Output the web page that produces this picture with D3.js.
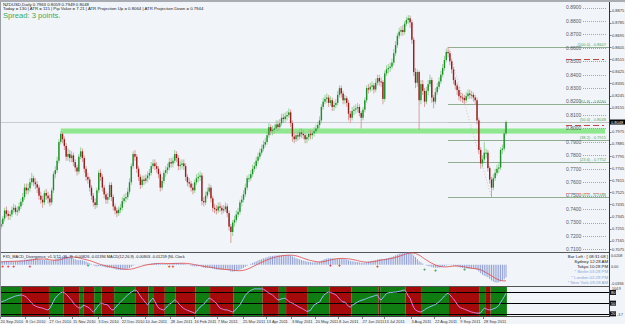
<!DOCTYPE html>
<html lang='en'>
<head>
<meta charset='utf-8'>
<title>NZDUSD Daily</title>
<script src='https://cdn.jsdelivr.net/npm/d3@7/dist/d3.min.js'></script>
<style>
	body { margin:0; background:#f1f5fa; }
	svg { display:block; font-family:'Liberation Sans', Arial, sans-serif; }
</style>
</head>
<body>
<script>
// daily NZDUSD, prices in pips (x 0.0001)
var firstOpen = 7270;
var closes = [
7290,7330,7390,7365,7350,7360,7395,7410,7380,7390,7420,7455,7490,7560,7540,7555,7600,7630,7600,7585,
7560,7500,7470,7450,7520,7500,7480,7450,7540,7660,7690,7760,7900,7960,7920,7870,7790,7810,7780,7800,
7750,7710,7680,7790,7830,7780,7700,7640,7620,7560,7500,7450,7430,7540,7670,7640,7560,7510,7470,7490,
7580,7490,7420,7390,7370,7395,7410,7460,7480,7490,7530,7600,7720,7810,7790,7700,7640,7580,7620,7610,
7630,7650,7670,7720,7740,7720,7700,7660,7560,7610,7670,7690,7710,7750,7740,7760,7810,7780,7720,7730,
7740,7720,7640,7600,7590,7560,7540,7600,7630,7640,7650,7460,7450,7500,7530,7560,7480,7410,7400,7390,
7420,7410,7390,7400,7420,7370,7270,7230,7300,7320,7360,7380,7450,7470,7510,7560,7630,7630,7660,7700,
7720,7760,7790,7820,7850,7880,7900,7950,8010,7980,7990,8000,8030,8010,8040,8080,8070,8090,8100,8120,
8040,7940,7920,7950,7940,7970,7960,7950,7920,7935,7960,7950,7965,7980,8000,8025,8060,8160,8200,8220,
8230,8190,8210,8160,8175,8190,8250,8300,8260,8210,8225,8190,8110,8080,8130,8140,8150,8160,8115,8080,
8140,8210,8300,8290,8310,8320,8290,8340,8375,8350,8346,8220,8410,8440,8450,8460,8490,8560,8620,8690,
8720,8733,8718,8780,8807,8820,8790,8660,8420,8340,8420,8210,8330,8280,8200,8280,8330,8360,8230,8200,
8270,8310,8350,8400,8450,8510,8570,8560,8500,8440,8360,8320,8286,8240,8230,8227,8210,8240,8260,8250,
8250,8230,8210,8060,7840,7740,7770,7820,7820,7705,7620,7560,7630,7670,7700,7710,7840,7850,7963,8048];
var highs = [
7320,7350,7410,7420,7390,7385,7420,7440,7430,7420,7450,7480,7520,7590,7590,7590,7630,7670,7650,7630,
7610,7580,7530,7500,7540,7550,7530,7510,7560,7680,7720,7790,7920,7980,7970,7940,7890,7850,7840,7830,
7820,7770,7730,7810,7860,7850,7800,7720,7670,7640,7580,7520,7480,7560,7690,7700,7660,7580,7530,7520,
7600,7600,7510,7440,7410,7420,7440,7490,7510,7520,7560,7630,7740,7830,7840,7810,7720,7660,7650,7650,
7660,7680,7700,7750,7770,7770,7750,7720,7680,7640,7690,7720,7740,7780,7780,7790,7840,7830,7800,7760,
7770,7770,7740,7660,7630,7610,7590,7620,7660,7670,7680,7670,7490,7530,7560,7590,7580,7500,7440,7430,
7450,7450,7430,7430,7450,7440,7390,7290,7320,7350,7390,7410,7470,7500,7540,7590,7650,7660,7690,7730,
7750,7790,7820,7850,7880,7910,7930,7980,8040,8030,8020,8030,8060,8060,8070,8110,8110,8120,8130,8150,
8140,8060,7970,7980,7980,8000,8000,7990,7970,7960,7990,7990,7990,8010,8030,8050,8090,8180,8230,8250,
8260,8250,8240,8230,8200,8220,8280,8320,8320,8280,8250,8240,8210,8130,8160,8170,8180,8190,8180,8130,
8160,8230,8320,8330,8340,8350,8340,8370,8400,8400,8380,8360,8430,8470,8480,8490,8520,8590,8650,8710,
8750,8760,8770,8800,8830,8844,8840,8810,8680,8450,8440,8430,8360,8360,8300,8310,8360,8400,8380,8250,
8300,8340,8380,8430,8480,8540,8595,8607,8580,8520,8460,8380,8340,8310,8270,8260,8250,8270,8290,8290,
8280,8270,8250,8230,8080,7860,7800,7900,7850,7840,7720,7640,7660,7700,7730,7740,7860,7880,7990,8059];
var lows = [
7250,7270,7310,7340,7320,7320,7340,7370,7360,7350,7370,7400,7430,7470,7510,7510,7530,7580,7570,7550,
7520,7470,7440,7410,7430,7470,7440,7420,7430,7520,7630,7670,7740,7880,7890,7840,7760,7760,7750,7750,
7720,7680,7650,7660,7770,7750,7670,7610,7590,7530,7470,7420,7400,7410,7520,7610,7530,7480,7440,7440,
7470,7460,7390,7360,7340,7350,7370,7390,7440,7450,7470,7510,7580,7700,7760,7670,7610,7550,7560,7580,
7590,7600,7620,7650,7700,7690,7670,7630,7530,7540,7590,7640,7660,7690,7710,7710,7740,7750,7690,7690,
7700,7690,7610,7570,7560,7530,7510,7520,7580,7600,7610,7430,7420,7430,7480,7510,7450,7380,7370,7360,
7370,7380,7360,7370,7380,7340,7240,7148,7200,7270,7300,7340,7360,7420,7450,7490,7540,7600,7610,7640,
7680,7700,7740,7770,7800,7830,7860,7880,7930,7950,7950,7960,7980,7980,7990,8020,8040,8040,8060,8080,
8010,7900,7890,7900,7910,7920,7930,7920,7890,7890,7910,7920,7920,7940,7960,7980,8000,8040,8140,8180,
8190,8160,8170,8130,8130,8150,8170,8230,8230,8180,8180,8160,8060,8040,8060,8100,8110,8120,8090,8000,
8060,8120,8190,8260,8270,8280,8260,8270,8320,8320,8310,8180,8200,8390,8410,8420,8440,8470,8540,8600,
8670,8690,8690,8700,8760,8780,8750,8630,8390,8300,8310,7990,8180,8250,8160,8180,8250,8310,8190,8150,
8180,8250,8290,8330,8380,8430,8490,8530,8470,8410,8330,8290,8250,8210,8200,8190,8180,8190,8220,8220,
8220,8200,8180,8030,7810,7700,7710,7750,7780,7680,7590,7488,7540,7610,7650,7670,7690,7810,7830,7949];

// MACD(12,26,9) main (histogram) and signal, x 0.0001
var macdMain = [
60,62,65,66,65,63,62,63,64,66,70,75,80,88,92,96,102,108,110,110,
106,100,92,86,84,80,76,72,74,82,92,104,122,140,150,152,148,140,130,122,
110,98,86,84,84,80,70,56,42,26,8,-10,-26,-30,-26,-24,-30,-38,-48,-54,
-52,-58,-68,-78,-86,-90,-90,-88,-84,-78,-70,-58,-38,-16,-4,0,2,0,4,6,
10,14,18,24,30,32,32,28,18,14,14,16,18,22,24,28,32,32,28,26,
24,22,14,4,-6,-16,-26,-28,-28,-26,-24,-40,-52,-56,-56,-54,-60,-70,-78,-84,
-86,-88,-90,-90,-88,-92,-104,-120,-122,-118,-110,-100,-84,-70,-54,-36,-16,0,16,32,
46,60,74,88,100,112,122,134,146,152,156,160,164,166,168,170,172,172,172,172,
164,148,130,116,104,94,84,74,64,56,50,46,42,42,44,48,54,70,86,100,
110,114,116,114,110,108,110,114,112,106,100,92,80,68,62,56,52,48,42,34,
32,36,46,54,62,70,74,82,92,100,104,96,104,112,120,128,138,152,168,182,
194,202,206,212,216,218,214,196,166,136,100,60,40,20,0,-14,-24,-30,-40,-50,
-54,-54,-50,-44,-36,-26,-14,-8,-8,-12,-18,-26,-34,-42,-50,-56,-62,-66,-70,-72,
-74,-76,-78,-92,-120,-150,-176,-192,-206,-222,-250,-280,-300,-312,-316,-310,-296,-280,-256,-226];
var macdSignal = [
50,52,54,56,58,60,61,62,63,63,64,65,67,69,72,76,80,85,90,95,
99,102,103,102,100,97,93,88,84,81,80,82,86,92,100,110,120,128,134,138,
138,135,130,122,114,106,98,90,82,74,64,52,40,28,16,6,-4,-12,-20,-28,
-34,-40,-46,-52,-58,-64,-70,-76,-80,-82,-82,-80,-76,-70,-62,-52,-42,-32,-22,-14,
-6,0,4,8,12,16,20,22,24,24,24,22,22,22,22,22,23,24,25,26,
26,26,25,22,18,14,8,2,-4,-10,-16,-22,-28,-34,-38,-42,-46,-50,-56,-62,
-68,-72,-76,-80,-84,-86,-88,-92,-96,-100,-104,-106,-106,-104,-98,-90,-80,-66,-52,-36,
-20,-4,12,28,44,58,72,86,98,110,120,130,138,146,152,158,162,166,168,170,
170,168,164,158,150,140,128,116,104,94,84,76,68,62,56,52,50,50,54,60,
68,76,84,92,98,104,108,110,112,112,110,108,104,100,94,88,82,74,66,58,
52,48,46,46,48,52,56,62,68,76,82,88,92,96,102,108,114,122,130,140,
150,160,172,182,192,200,206,208,206,198,186,170,150,128,106,84,64,44,26,10,
-4,-16,-26,-32,-36,-38,-38,-36,-32,-28,-24,-22,-22,-24,-28,-32,-38,-44,-50,-56,
-62,-66,-70,-74,-80,-90,-104,-120,-138,-156,-176,-196,-216,-236,-254,-268,-278,-284,-286,-284];

// oscillator in the bottom window (0..100)
var osc = [
53,55,57,59,62,64,66,68,70,71,72,73,72,70,67,62,56,50,45,42,
40,38,37,36,34,32,31,36,45,55,64,70,75,79,81,79,75,70,64,58,
50,45,40,37,36,42,44,41,39,35,30,25,30,38,45,50,49,47,46,45,
38,32,31,36,42,48,53,58,63,68,73,77,81,84,87,85,78,70,63,57,
50,45,52,59,64,55,45,37,34,32,31,36,42,47,50,55,59,56,50,44,
39,35,32,30,28,26,24,22,27,33,39,43,47,53,59,64,62,58,54,50,
42,36,34,32,31,31,29,27,25,28,34,40,45,54,63,72,78,82,86,88,
90,90,90,90,90,89,86,82,78,76,73,68,63,59,60,62,63,64,60,55,
52,50,47,44,41,38,36,33,30,27,28,30,38,45,48,51,53,62,70,75,
79,81,80,78,76,73,68,62,57,53,53,47,41,39,44,47,50,53,56,58,
59,61,63,65,67,68,70,72,73,62,59,65,71,77,79,80,80,81,81,82,
83,84,86,87,80,70,64,50,38,31,28,26,25,28,31,35,37,40,42,44,
46,50,54,59,64,70,75,78,74,67,62,55,47,40,37,35,33,31,29,27,
25,24,23,22,22,23,30,36,34,32,31,32,34,36,39,43,52,60,68,78];
// background bands of the bottom window: first bar of each band and its colour
var bandStart = [0,12,27,35,44,46,52,56,63,75,82,85,91,97,108,116,129,145,154,158,170,182,194,209,210,224,233,248,265,268,271];
var bandColor = ['g','r','g','r','g','r','g','r','g','r','g','r','g','r','g','r','g','r','g','r','g','r','g','r','g','r','g','r','g','r','g'];
var oscLevels = [80, 50, 20];

// time axis
var dateLabels = ['20 Sep 2010','8 Oct 2010','27 Oct 2010','15 Nov 2010','3 Dec 2010','22 Dec 2010','10 Jan 2011','28 Jan 2011','16 Feb 2011','7 Mar 2011','25 Mar 2011','13 Apr 2011','3 May 2011','20 May 2011','8 Jun 2011','27 Jun 2011','13 Jul 2011','3 Aug 2011','22 Aug 2011','9 Sep 2011','28 Sep 2011'];
var dateBars = [0,14,27,40,54,67,80,94,107,120,134,147,161,174,187,200,212,227,240,254,267];

// price levels
var roundLevels = [0.89,0.88,0.87,0.86,0.85,0.84,0.83,0.82,0.81,0.80,0.79,0.78,0.77,0.76,0.75,0.74,0.73,0.72,0.71];
var axisTicks = [0.8875,0.8785,0.8695,0.8605,0.8515,0.8425,0.8335,0.8245,0.8155,0.8065,0.7975,0.7885,0.7795,0.7705,0.7615,0.7525,0.7435,0.7345,0.7255,0.7165,0.7075];
var fibLevels = ['100.0','61.8','50.0','38.2','23.6','0.0'];
var fibPrices = [0.8607,0.8180,0.8048,0.7915,0.7752,0.7488];
var fibFrom = 247, fibTo = 271;
var atrLines = [0.8515,0.8026,0.7518];
var zoneTop = 0.8000, zoneBottom = 0.7962, zoneFrom = 33;
var bid = 0.8048;

// MACD divergence marks
var divBars = [1,4,7,16,48,93,95,182,187,208,234,240,256];
var divVals = [-30,-30,-30,-20,-10,-20,-20,-10,-10,-30,-80,-90,-80];
var divCols = ['r','r','r','r','g','r','r','r','r','r','g','g','g'];

var clockLines = ['Bar Left : [ 08:31:08 ]','Sydney    12:28  AM','Tokyo    10:28  PM','* Berlin    03:28  PM','* London    02:28  PM','* New York    09:28  AM'];

var width = 625, height = 324;
var axisX = 609.5, plotRight = 506;
var svg = d3.select('body').append('svg').attr('width', width).attr('height', height);

svg.append('rect').attr('width', width).attr('height', height).attr('fill', '#f1f5fa');
svg.append('rect').attr('width', width).attr('height', 2).attr('fill', '#a9adb3');

var N = closes.length;
var x = d3.scaleLinear().domain([0, N - 1]).range([1, plotRight]);
var y = d3.scaleLinear().domain([0.7081, 0.8941]).range([252, 2]);
var yM = d3.scaleLinear().domain([-0.0394, 0.0208]).range([287, 253]);
var yO = d3.scaleLinear().domain([0, 100]).range([321, 285.3]);

var bars = closes.map(function(c, i) {
	return { i: i, o: (i ? closes[i - 1] : firstOpen) / 1e4, h: highs[i] / 1e4, l: lows[i] / 1e4, c: c / 1e4 };
});

// ---------- main window ----------
var main = svg.append('g');
main.append('clipPath').attr('id', 'mainClip').append('rect').attr('x', 0).attr('y', 2).attr('width', axisX).attr('height', 250);

// support zone
main.append('rect')
	.attr('x', x(zoneFrom)).attr('width', 605 - x(zoneFrom))
	.attr('y', y(zoneTop)).attr('height', y(zoneBottom) - y(zoneTop))
	.attr('fill', '#8fe88f');

// bid line
main.append('line').attr('x1', 0).attr('x2', axisX).attr('y1', y(bid) + 0.5).attr('y2', y(bid) + 0.5)
	.attr('stroke', '#c9cdd2').attr('stroke-width', 1);

// fibonacci
main.selectAll('line.fib').data(fibPrices).enter().append('line')
	.attr('x1', x(fibFrom)).attr('x2', axisX)
	.attr('y1', d => Math.round(y(d)) + 0.5).attr('y2', d => Math.round(y(d)) + 0.5)
	.attr('stroke', (d, i) => i == 2 ? '#b9c3bb' : '#8fae92').attr('stroke-width', 1);
main.append('line')
	.attr('x1', x(fibFrom)).attr('y1', y(fibPrices[0]))
	.attr('x2', x(fibTo)).attr('y2', y(fibPrices[5]))
	.attr('stroke', '#d9a9a9').attr('stroke-dasharray', '1,2').attr('stroke-width', 0.8);

// round level dotted lines and labels
main.selectAll('line.lvl').data(roundLevels).enter().append('line')
	.attr('x1', 583).attr('x2', 607)
	.attr('y1', d => Math.round(y(d)) + 0.5).attr('y2', d => Math.round(y(d)) + 0.5)
	.attr('stroke', '#5f9f6a').attr('stroke-dasharray', '1,1').attr('stroke-width', 0.7);
main.selectAll('text.lvl').data(roundLevels).enter().append('text')
	.attr('x', 566).attr('y', d => y(d) + 1.8)
	.attr('font-size', 5).attr('fill', '#55595e')
	.text(d => d.toFixed(4));

// fib labels
main.selectAll('text.fib').data(fibPrices).enter().append('text')
	.attr('x', 606).attr('y', d => y(d) - 1)
	.attr('text-anchor', 'end').attr('font-size', 4).attr('fill', '#5aa35a')
	.text((d, i) => '(' + fibLevels[i] + ') - ' + d.toFixed(4));

// atr projection dashes
main.selectAll('line.atr').data(atrLines).enter().append('line')
	.attr('x1', 566).attr('x2', 604)
	.attr('y1', d => Math.round(y(d)) + 0.5).attr('y2', d => Math.round(y(d)) + 0.5)
	.attr('stroke', (d, i) => i == 2 ? '#e59a9a' : '#c04848').attr('stroke-dasharray', '6,3').attr('stroke-width', 1);

// candles
var cg = main.append('g').attr('clip-path', 'url(#mainClip)');
cg.selectAll('line.wick').data(bars).enter().append('line')
	.attr('x1', d => x(d.i)).attr('x2', d => x(d.i))
	.attr('y1', d => y(d.h)).attr('y2', d => y(d.l))
	.attr('stroke', d => d.c >= d.o ? '#8ccf8c' : '#d99494').attr('stroke-width', 0.9);
cg.selectAll('rect.body').data(bars).enter().append('rect')
	.attr('x', d => x(d.i) - 0.7).attr('width', 1.4)
	.attr('y', d => y(Math.max(d.o, d.c)))
	.attr('height', d => Math.max(1, Math.abs(y(d.o) - y(d.c))))
	.attr('fill', d => d.c >= d.o ? '#1f8f2c' : '#971c1c');

// header text
svg.append('text').attr('x', 3).attr('y', 5.5).attr('font-size', 4.3).attr('fill', '#222')
	.text('NZDUSD,Daily  0.7963 0.8059 0.7949 0.8048');
svg.append('text').attr('x', 3).attr('y', 10).attr('font-size', 4.3).attr('fill', '#222')
	.text('Today = 130   |   ATR = 115   |   Pip Value = 7.21   |   ATR Projection Up = 0.8064   |   ATR Projection Down = 0.7944');
svg.append('text').attr('x', 3).attr('y', 18).attr('font-size', 7.6).attr('fill', '#3aaa5a')
	.text('Spread: 3 points.');

// ---------- MACD window ----------
svg.append('line').attr('x1', 0).attr('x2', axisX).attr('y1', 252.5).attr('y2', 252.5).attr('stroke', '#555').attr('stroke-width', 1);
svg.append('line').attr('x1', 0).attr('x2', axisX).attr('y1', 286.5).attr('y2', 286.5).attr('stroke', '#555').attr('stroke-width', 1);

var mg = svg.append('g');
mg.selectAll('line.h').data(macdMain).enter().append('line')
	.attr('x1', (d, i) => x(i)).attr('x2', (d, i) => x(i))
	.attr('y1', yM(0)).attr('y2', d => yM(d / 1e4))
	.attr('stroke', '#8795cf').attr('stroke-width', 0.9);
mg.append('path').datum(macdSignal)
	.attr('d', d3.line().x((d, i) => x(i)).y(d => yM(d / 1e4)).curve(d3.curveMonotoneX))
	.attr('fill', 'none').attr('stroke', '#e04848').attr('stroke-width', 0.8);
mg.selectAll('text.div').data(divBars).enter().append('text')
	.attr('x', d => x(d)).attr('y', (d, i) => yM(divVals[i] / 1e4) + 2)
	.attr('text-anchor', 'middle').attr('font-size', 5).attr('font-weight', 'bold')
	.attr('fill', (d, i) => divCols[i] == 'r' ? '#d42020' : '#1f8f2c')
	.text('+');

svg.append('text').attr('x', 3).attr('y', 257.5).attr('font-size', 3.9).attr('fill', '#222')
	.text('FX5_MACD_Divergence_v1.1(12, 26, 9) -0.00826 -0.01394   MACD(12,26,9) -0.00803 -0.01259   (NL Clock');

svg.selectAll('text.clock').data(clockLines).enter().append('text')
	.attr('x', 608).attr('y', (d, i) => 257.5 + i * 5.3)
	.attr('text-anchor', 'end').attr('font-size', 4.3)
	.attr('fill', (d, i) => i < 3 ? '#222' : '#86a6d6')
	.text(d => d);

// ---------- oscillator window ----------
var og = svg.append('g');
og.append('clipPath').attr('id', 'oscClip').append('rect').attr('x', 0).attr('y', 287).attr('width', axisX).attr('height', 29);
var bands = bandStart.map((s, k) => ({ s: s, e: k < bandStart.length - 1 ? bandStart[k + 1] - 1 : N - 1, c: bandColor[k] }));
og.selectAll('rect.band').data(bands).enter().append('rect')
	.attr('x', d => x(d.s) - 0.9).attr('width', d => x(d.e) - x(d.s) + 1.81)
	.attr('y', 287).attr('height', 29)
	.attr('fill', d => d.c == 'r' ? '#a50a0a' : '#0f7d12');
og.selectAll('line.lev').data(oscLevels).enter().append('line')
	.attr('x1', 0).attr('x2', axisX)
	.attr('y1', d => Math.round(yO(d)) + 0.5).attr('y2', d => Math.round(yO(d)) + 0.5)
	.attr('stroke', '#000').attr('stroke-width', 1);
var oscSeg = d3.range(1, N).map(i => ({ i: i, a: osc[i - 1], b: osc[i] }));
og.append('g').attr('clip-path', 'url(#oscClip)').selectAll('line.osc').data(oscSeg).enter().append('line')
	.attr('x1', d => x(d.i - 1)).attr('x2', d => x(d.i))
	.attr('y1', d => yO(d.a)).attr('y2', d => yO(d.b))
	.attr('stroke', d => d.b >= d.a ? '#8fc0ee' : '#e27ad8').attr('stroke-width', 1);
svg.append('line').attr('x1', 0).attr('x2', axisX).attr('y1', 316.5).attr('y2', 316.5).attr('stroke', '#444').attr('stroke-width', 1);

// ---------- axes ----------
svg.append('line').attr('x1', axisX).attr('x2', axisX).attr('y1', 2).attr('y2', 317).attr('stroke', '#333').attr('stroke-width', 1);
svg.append('line').attr('x1', 0.5).attr('x2', 0.5).attr('y1', 2).attr('y2', 317).attr('stroke', '#9a9ea4').attr('stroke-width', 1);

// axis labels, the one under the price box is hidden as in the terminal
var shownTicks = axisTicks.filter(d => Math.abs(y(d) - y(bid)) > 5);
svg.selectAll('text.ax').data(shownTicks).enter().append('text')
	.attr('x', 612).attr('y', d => Math.min(y(d) + 1.5, 250.5))
	.attr('font-size', 4).attr('fill', '#333')
	.text(d => d.toFixed(4));
svg.selectAll('line.ax').data(shownTicks).enter().append('line')
	.attr('x1', axisX).attr('x2', axisX + 2)
	.attr('y1', d => Math.round(Math.min(y(d), 249)) + 0.5).attr('y2', d => Math.round(Math.min(y(d), 249)) + 0.5)
	.attr('stroke', '#333').attr('stroke-width', 0.6);

// current price box
svg.append('rect').attr('x', 610).attr('y', y(bid) - 2.5).attr('width', 15).attr('height', 5).attr('fill', '#000');
svg.append('text').attr('x', 611).attr('y', y(bid) + 1.5).attr('font-size', 4).attr('fill', '#fff').text(bid.toFixed(4));

// macd axis labels
var macdAxis = [0.0208, 0, -0.0394];
svg.selectAll('text.max').data(macdAxis).enter().append('text')
	.attr('x', 611).attr('y', (d, i) => [257, 267.5, 285][i])
	.attr('font-size', 3.7).attr('fill', '#333')
	.text(d => d == 0 ? '0.00' : d.toFixed(4));

// oscillator axis labels
svg.selectAll('rect.olab').data(oscLevels).enter().append('rect')
	.attr('x', 610).attr('y', d => yO(d) - 2.5).attr('width', 6).attr('height', 5).attr('fill', '#111');
svg.selectAll('text.olab').data(oscLevels).enter().append('text')
	.attr('x', 611).attr('y', d => yO(d) + 1.5).attr('font-size', 4).attr('fill', '#fff').text(d => d);
svg.append('text').attr('x', 612).attr('y', 289.8).attr('font-size', 3.5).attr('fill', '#333').text('104.9');
svg.append('text').attr('x', 617).attr('y', 316).attr('font-size', 3.4).attr('fill', '#333').text('-3.7');

// date labels
svg.selectAll('line.dt').data(dateBars).enter().append('line')
	.attr('x1', d => Math.round(x(d)) - 0.5).attr('x2', d => Math.round(x(d)) - 0.5)
	.attr('y1', 317).attr('y2', 319).attr('stroke', '#333').attr('stroke-width', 0.6);
svg.selectAll('text.dt').data(dateBars).enter().append('text')
	.attr('x', d => x(d) - 0.5).attr('y', 322.5)
	.attr('font-size', 4).attr('fill', '#333')
	.text((d, i) => dateLabels[i]);
</script>
</body>
</html>
